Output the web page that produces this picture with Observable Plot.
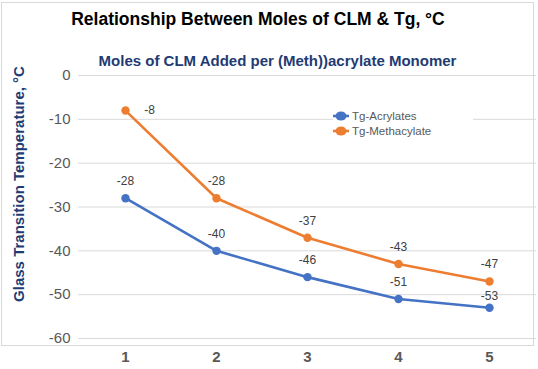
<!DOCTYPE html>
<html>
<head>
<meta charset="utf-8">
<script src="https://cdn.jsdelivr.net/npm/d3@7"></script>
<script src="https://cdn.jsdelivr.net/npm/@observablehq/plot@0.6"></script>
<style>
  html, body { margin: 0; padding: 0; background: #fff; }
  body { font-family: "Liberation Sans", Arial, sans-serif; }
  #wrap { position: relative; width: 538px; height: 369px; overflow: hidden; }
  #frame { position: absolute; left: 1px; top: 2px; width: 533px; height: 344px; border: 1px solid #d9d9d9; box-sizing: border-box; }
  #title { position: absolute; left: 0; width: 516px; top: 9px; text-align: center; font-size: 17.5px; font-weight: bold; color: #000; }
  #subtitle { position: absolute; left: 0; width: 555px; top: 52px; text-align: center; font-size: 15px; font-weight: bold; color: #1f3b73; }
  #ylabel { position: absolute; left: 18px; top: 184px; transform: translate(-50%, -50%) rotate(-90deg); white-space: nowrap; font-size: 15px; font-weight: bold; color: #1f3b73; }
  #legend { position: absolute; left: 333px; top: 108px; width: 140px; background: #fff; font-size: 11.5px; color: #595959; }
  #legend .item { display: flex; align-items: center; height: 15px; }
  #legend svg { margin-right: 3px; }
  #chart { position: absolute; left: 0; top: 0; }
</style>
</head>
<body>
<div id="wrap">
  <div id="frame"></div>
  <div id="chart"></div>
  <div id="title">Relationship Between Moles of CLM &amp; Tg, °C</div>
  <div id="subtitle">Moles of CLM Added per (Meth))acrylate Monomer</div>
  <div id="ylabel">Glass Transition Temperature, °C</div>
  <div id="legend"></div>
</div>
<script>
const moles = [1, 2, 3, 4, 5];
const acrylates = [-28, -40, -46, -51, -53];
const methacylate = [-8, -28, -37, -43, -47];
const seriesNames = ["Tg-Acrylates", "Tg-Methacylate"];
const seriesColors = ["#4472c4", "#ed7d31"];
const yTicks = [0, -10, -20, -30, -40, -50, -60];

const rows = [];
moles.forEach((m, i) => rows.push({x: m, y: acrylates[i], s: seriesNames[0], i}));
moles.forEach((m, i) => rows.push({x: m, y: methacylate[i], s: seriesNames[1], i}));

const color = {domain: seriesNames, range: seriesColors};
const isAcr = d => d.s === seriesNames[0];
const lastAcr = d => isAcr(d) && d.i === moles.length - 1;
const firstMeth = d => !isAcr(d) && d.i === 0;

const chart = Plot.plot({
  width: 538,
  height: 369,
  marginLeft: 78,
  marginRight: 2,
  marginTop: 75,
  marginBottom: 31,
  style: {fontFamily: "'Liberation Sans', Arial, sans-serif", background: "transparent"},
  x: {type: "point", domain: moles, padding: 0.5},
  y: {domain: [-60, 0], ticks: yTicks},
  color,
  marks: [
    Plot.gridY(yTicks, {stroke: "#d9d9d9", strokeOpacity: 1, strokeWidth: 1}),
    Plot.axisY(yTicks, {tickSize: 0, tickPadding: 8, fontSize: 15, fill: "#595959", label: null, tickFormat: d => String(d)}),
    Plot.axisX(moles, {tickSize: 0, tickPadding: 13, fontSize: 15, fontWeight: "bold", fill: "#595959", label: null}),
    Plot.line(rows, {x: "x", y: "y", z: "s", stroke: "s", strokeWidth: 2.6, curve: "linear"}),
    Plot.dot(rows, {x: "x", y: "y", fill: "s", r: 4.2}),
    Plot.text(rows.filter(d => !lastAcr(d) && !firstMeth(d)), {x: "x", y: "y", text: d => String(d.y), dy: -17, fontSize: 12, fill: "#404040"}),
    Plot.text(rows.filter(lastAcr), {x: "x", y: "y", text: d => String(d.y), dy: -12, fontSize: 12, fill: "#404040"}),
    Plot.text(rows.filter(firstMeth), {x: "x", y: "y", text: d => String(d.y), dx: 24, fontSize: 12, fill: "#404040"})
  ]
});
document.getElementById("chart").appendChild(chart);

const legend = document.getElementById("legend");
seriesNames.forEach((name, i) => {
  const item = document.createElement("div");
  item.className = "item";
  item.innerHTML = `<svg width="16" height="12"><line x1="0" y1="6" x2="16" y2="6" stroke="${seriesColors[i]}" stroke-width="2.6"/><ellipse cx="8" cy="6" rx="5.5" ry="4.5" fill="${seriesColors[i]}"/></svg><span>${name}</span>`;
  legend.appendChild(item);
});
</script>
</body>
</html>
